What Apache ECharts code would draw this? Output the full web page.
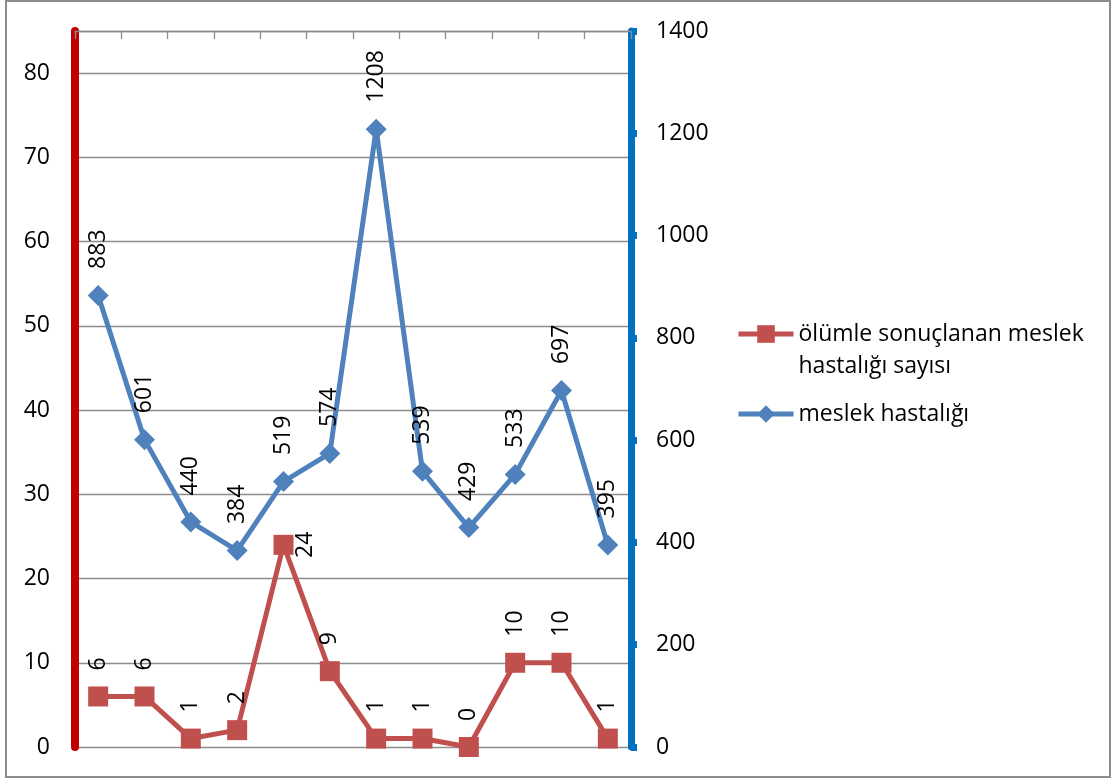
<!DOCTYPE html>
<html>
<head>
<meta charset="utf-8">
<script src="https://cdn.jsdelivr.net/npm/echarts@6/dist/echarts.min.js"></script>
<style>
html,body{margin:0;padding:0;background:#fff;}
#chart{width:1112px;height:778px;}
</style>
</head>
<body>
<div id="chart"></div>
<script>
const categories = ['1','2','3','4','5','6','7','8','9','10','11','12'];
const deathNames = 'ölümle sonuçlanan meslek hastalığı sayısı';
const diseaseNames = 'meslek hastalığı';
const deathValues = [6, 6, 1, 2, 24, 9, 1, 1, 0, 10, 10, 1];
const diseaseValues = [883, 601, 440, 384, 519, 574, 1208, 539, 429, 533, 697, 395];
const leftTicks = [0, 10, 20, 30, 40, 50, 60, 70, 80];
const rightTicks = [0, 200, 400, 600, 800, 1000, 1200, 1400];

const FONT = 'Open Sans';
const FS = 23;

const baseLabel = {
  show: true,
  position: 'top',
  distance: 16,
  rotate: 90,
  align: 'left',
  verticalAlign: 'middle',
  color: '#000',
  fontFamily: FONT,
  fontSize: FS
};

const deathData = deathValues.map((v, i) => {
  if (i === 4) {
    return { value: v, label: { position: 'right', distance: 0, align: 'center', verticalAlign: 'top' } };
  }
  return v;
});

const chart = echarts.init(document.getElementById('chart'));
chart.setOption({
  animation: false,
  backgroundColor: '#fff',
  textStyle: { fontFamily: FONT },
  grid: { left: 75, right: 481, top: 31, bottom: 31, containLabel: false },
  legend: {
    orient: 'vertical',
    left: 731,
    top: 281,
    itemWidth: 55,
    itemHeight: 22,
    itemGap: 16,
    data: [deathNames, diseaseNames],
    lineStyle: { width: 5 },
    formatter: function (name) {
      return name === deathNames ? '\nölümle sonuçlanan meslek\nhastalığı sayısı' : name;
    },
    textStyle: { fontFamily: FONT, fontSize: FS, color: '#000', lineHeight: 32 }
  },
  xAxis: [{
    type: 'category',
    gridIndex: 0,
    position: 'top',
    data: categories,
    boundaryGap: true,
    axisLine: { show: true, onZero: false, lineStyle: { color: '#8c8c8c', width: 1.3 } },
    axisTick: { show: true, inside: true, length: 8, alignWithLabel: false, lineStyle: { color: '#8c8c8c', width: 1.3 } },
    axisLabel: { show: false },
    splitLine: { show: false }
  }],
  yAxis: [
    {
      type: 'value',
      min: 0,
      max: 85,
      interval: 10,
      position: 'left',
      axisLine: { show: true, onZero: false, lineStyle: { color: '#C00000', width: 8 } },
      axisTick: { show: false },
      axisLabel: {
        margin: 25, color: '#000', fontFamily: FONT, fontSize: FS, showMaxLabel: false,
        formatter: function (v) { return leftTicks.indexOf(v) >= 0 ? String(v) : ''; }
      },
      splitLine: { show: true, lineStyle: { color: '#8c8c8c', width: 1.3 } }
    },
    {
      type: 'value',
      min: 0,
      max: 1400,
      interval: 200,
      position: 'right',
      axisLine: { show: true, onZero: false, lineStyle: { color: '#0070C0', width: 7 } },
      axisTick: { show: true, inside: false, length: 6, lineStyle: { color: '#0070C0', width: 7 } },
      axisLabel: {
        margin: 25, color: '#000', fontFamily: FONT, fontSize: FS,
        formatter: function (v) { return rightTicks.indexOf(v) >= 0 ? String(v) : ''; }
      },
      splitLine: { show: false }
    }
  ],
  series: [
    {
      name: deathNames,
      type: 'line',
      yAxisIndex: 0,
      data: deathData,
      symbol: 'rect',
      symbolSize: 20,
      itemStyle: { color: '#C0504D' },
      lineStyle: { color: '#C0504D', width: 5 },
      label: baseLabel,
      z: 3
    },
    {
      name: diseaseNames,
      type: 'line',
      yAxisIndex: 1,
      data: diseaseValues,
      symbol: 'diamond',
      symbolSize: 21,
      itemStyle: { color: '#4F81BD' },
      lineStyle: { color: '#4F81BD', width: 5 },
      label: baseLabel,
      z: 2
    }
  ],
  graphic: [
    {
      type: 'rect',
      z: 101,
      shape: { x: 6, y: 1, width: 1104, height: 776 },
      style: { fill: 'none', stroke: '#8c8c8c', lineWidth: 2 },
      silent: true
    }
  ]
});
</script>
</body>
</html>
